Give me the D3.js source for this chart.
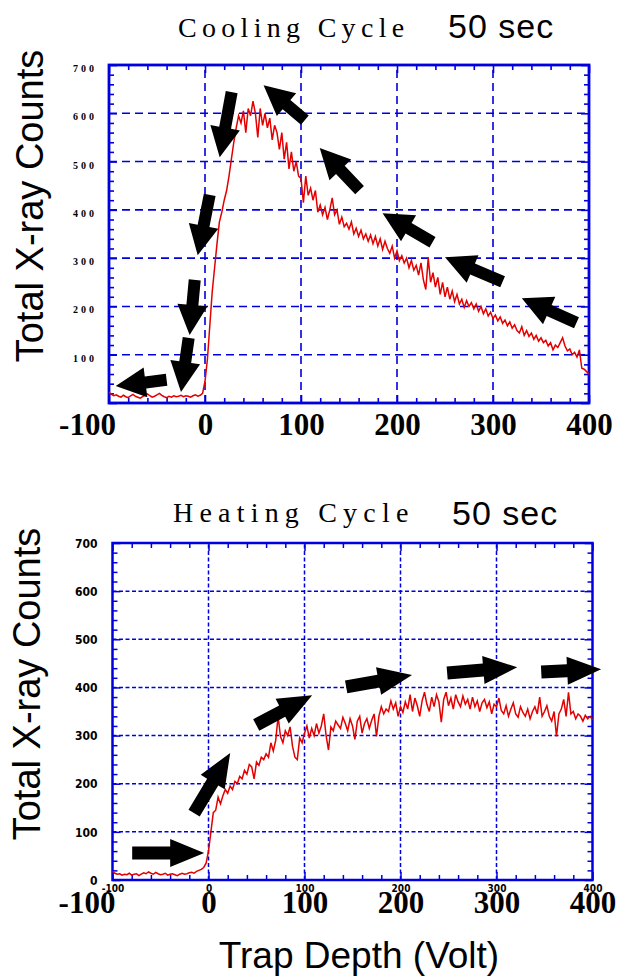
<!DOCTYPE html>
<html><head><meta charset="utf-8">
<script src="https://cdn.jsdelivr.net/npm/d3@7"></script>
<style>body{margin:0;background:#fff} svg{display:block}</style>
</head><body><svg id="c" width="617" height="976"></svg>
<script>
// ---------- DATA ----------
const voltages = d3.range(-100, 400.001, 2.5); // instrument sampling grid (Volt)
const coolingCounts = [
  22,18,15,17,14,12,16,13,11,15, 18,14,12,10,13,16,19,15,12,14,
  17,20,16,13,11,14,12,15,13,14, 16,13,15,14,12,15,17,14,16,
  20,45,90,160,230,280,330,375,395,420,
  440,470,505,540,570,595,580,605,560,610,
  595,625,600,550,610,575,600,570,590,545,
  575,560,525,560,505,540,485,520,480,500,
  470,465,415,470,430,445,420,440,395,410,
  390,405,380,400,425,390,400,370,385,365,
  372,360,375,350,362,345,358,340,350,335,
  348,330,345,325,340,318,335,320,310,325,
  300,315,295,305,290,300,280,295,275,285,
  265,290,255,235,300,250,270,240,260,225,
  250,220,240,215,232,210,225,205,215,198,
  212,200,208,195,205,190,200,185,195,180,
  188,175,182,170,178,165,172,160,168,155,
  162,150,145,158,140,150,138,145,132,140,
  128,135,125,130,118,125,110,120,115,125,
  135,118,108,112,100,105,95,110,72,70,
  65,60
];
const heatingCounts = [
  18,14,12,13,10,12,11,14,10,12, 13,9,12,15,13,17,14,12,16,13,
  11,12,14,10,12,13,11,9,12,14, 12,13,15,16,14,18,20,22,
  26,35,60,100,140,145,172,158,175,188,
  180,195,188,205,200,215,210,228,220,240,
  235,210,245,238,255,250,262,255,285,268,
  290,340,298,285,310,300,318,278,255,250,
  295,285,305,320,295,315,300,325,305,320,
  345,300,270,318,310,330,322,315,338,325,
  310,335,320,292,330,340,305,325,335,315,
  332,345,298,340,360,345,355,350,372,355,
  368,340,360,348,370,355,385,350,378,362,
  340,372,390,365,350,380,360,385,370,328,
  375,390,362,378,355,385,370,360,382,365,
  375,355,380,360,372,350,368,375,358,370,
  345,365,360,378,352,345,362,340,355,368,
  345,338,360,348,340,355,335,350,360,345,
  380,340,350,362,340,330,350,298,345,355,
  375,340,390,345,350,335,345,340,330,342,
  335,340,333
];
const xTickLabels = [-100, 0, 100, 200, 300, 400];
const yTickLabelsCooling = [100, 200, 300, 400, 500, 600, 700];
const yTickLabelsHeating = [0, 100, 200, 300, 400, 500, 600, 700];
// annotation arrows: [tail volt, tail counts, tip volt, tip counts]
const coolingArrows = [
  [-40, 48, -93, 35],
  [-17, 135, -25, 23],
  [-10.7, 255, -16, 141],
  [4.9, 431, -7.6, 306],
  [27.8, 644, 15.3, 509],
  [104, 586, 61, 658],
  [161, 441, 119.5, 528],
  [237, 333, 185, 393],
  [310, 251, 250, 302],
  [387, 166, 330, 217]
];
const heatingArrows = [
  [-79.5, 56, -4.5, 56],
  [-15, 139, 22.6, 264],
  [49.7, 322, 108, 384],
  [143.4, 401, 212, 426],
  [248.6, 430, 321.6, 442],
  [346.6, 432, 409, 438]
];

// ---------- DRAW ----------
const svg = d3.select('#c');
const BLUE = '#0000dd', RED = '#e30000';

function arrowPath(x1, y1, x2, y2, sw, hw, hl) {
  const dx = x2 - x1, dy = y2 - y1, L = Math.hypot(dx, dy);
  const ux = dx / L, uy = dy / L, nx = -uy, ny = ux;
  const bx = x2 - ux * hl, by = y2 - uy * hl;
  const p = [
    [x1 + nx * sw / 2, y1 + ny * sw / 2],
    [bx + nx * sw / 2, by + ny * sw / 2],
    [bx + nx * hw / 2, by + ny * hw / 2],
    [x2, y2],
    [bx - nx * hw / 2, by - ny * hw / 2],
    [bx - nx * sw / 2, by - ny * sw / 2],
    [x1 - nx * sw / 2, y1 - ny * sw / 2]
  ];
  return 'M' + p.map(d => d.join(',')).join('L') + 'Z';
}

function panel(cfg) {
  const g = svg.append('g');
  const x = d3.scaleLinear().domain([-100, 400]).range(cfg.xr);
  const y = d3.scaleLinear().domain([0, 700]).range(cfg.yr);
  const [L, R] = cfg.xr, [B, T] = cfg.yr;

  // grid
  const grid = g.append('g').attr('stroke', BLUE).attr('stroke-width', cfg.gridW)
    .attr('stroke-dasharray', cfg.dash).attr('fill', 'none');
  [0, 100, 200, 300].forEach(v => grid.append('line')
    .attr('x1', x(v)).attr('x2', x(v)).attr('y1', B).attr('y2', T));
  [100, 200, 300, 400, 500, 600].forEach(v => grid.append('line')
    .attr('x1', L).attr('x2', R).attr('y1', y(v)).attr('y2', y(v)));

  // ticks (inward, all four sides)
  const majX = d3.range(-100, 401, 100), minX = d3.range(-100, 401, 20).filter(v => v % 100 !== 0);
  const majY = d3.range(0, 701, 100), minY = d3.range(0, 701, 20).filter(v => v % 100 !== 0);
  const mk = (axisFn, scale, vals, size, tr) => {
    const a = g.append('g').attr('transform', tr)
      .call(axisFn(scale).tickValues(vals).tickSizeInner(-size).tickSizeOuter(0).tickFormat(''));
    a.select('.domain').remove();
    a.selectAll('line').attr('stroke', BLUE).attr('stroke-width', cfg.tickW);
  };
  [[majX, 8], [minX, 5]].forEach(([v, s]) => {
    mk(d3.axisBottom, x, v, s, `translate(0,${B})`);
    mk(d3.axisTop, x, v, s, `translate(0,${T})`);
  });
  [[majY, 8], [minY, 5]].forEach(([v, s]) => {
    mk(d3.axisLeft, y, v, s, `translate(${L},0)`);
    mk(d3.axisRight, y, v, s, `translate(${R},0)`);
  });

  // frame
  g.append('rect').attr('x', L).attr('y', T).attr('width', R - L).attr('height', B - T)
    .attr('fill', 'none').attr('stroke', BLUE).attr('stroke-width', cfg.frameW);

  // data
  const pts = voltages.map((v, i) => [v, cfg.counts[i]]);
  g.append('path').datum(pts)
    .attr('d', d3.line().x(d => x(d[0])).y(d => y(d[1])))
    .attr('fill', 'none').attr('stroke', RED).attr('stroke-width', 1.5)
    .attr('stroke-linejoin', 'miter');

  // y tick labels
  const yl = g.append('g').attr('transform', `translate(${L},0)`)
    .call(d3.axisLeft(y).tickValues(cfg.yLabels).tickSize(0).tickPadding(cfg.yPad));
  yl.select('.domain').remove();
  yl.selectAll('text').attr('font-family', cfg.yFont).attr('font-weight', 'bold')
    .attr('font-size', cfg.yFontSize).attr('letter-spacing', cfg.ySpacing)
    .attr('dy', cfg.yDy).attr('fill', '#000');

  // optional small x tick labels (overprinted in the original)
  if (cfg.smallX) {
    const sx = g.append('g').attr('transform', `translate(0,${B})`)
      .call(d3.axisBottom(x).tickValues(xTickLabels).tickSize(0).tickPadding(5));
    sx.select('.domain').remove();
    sx.selectAll('text').attr('font-family', '"DejaVu Sans Condensed", "DejaVu Sans"')
      .attr('font-stretch', 'condensed').attr('font-weight', 'bold')
      .attr('font-size', 10).attr('fill', '#000').text(d => String(d));
  }

  // big x tick labels
  const xl = g.append('g').attr('transform', `translate(0,${B})`)
    .call(d3.axisBottom(x).tickValues(xTickLabels).tickSize(0).tickPadding(0));
  xl.select('.domain').remove();
  xl.selectAll('text').attr('font-family', '"Liberation Serif", "Times New Roman", serif')
    .attr('font-weight', 'bold').attr('font-size', 31).attr('fill', '#000')
    .attr('dy', null).attr('y', cfg.xLabelBase - B)
    .attr('dx', d => d === -100 ? cfg.minusShift : 0)
    .text(d => String(d));

  // arrows
  cfg.arrows.forEach(a => {
    g.append('path')
      .attr('d', arrowPath(x(a[0]), y(a[1]), x(a[2]), y(a[3]), cfg.shaftW, cfg.headW, cfg.headL))
      .attr('fill', '#000');
  });

  // title
  g.append('text').attr('x', cfg.titleX).attr('y', cfg.titleY)
    .attr('font-family', '"Liberation Serif", "Times New Roman", serif')
    .attr('font-size', 28).attr('letter-spacing', cfg.titleSpacing).attr('fill', '#000').text(cfg.title);
  g.append('text').attr('x', cfg.secX).attr('y', cfg.secY)
    .attr('font-family', '"Liberation Sans", Arial, sans-serif')
    .attr('font-size', 34).attr('letter-spacing', 1).attr('fill', '#000').text('50 sec');

  // y title
  g.append('text').attr('transform', `translate(${cfg.yTitleX},${cfg.yTitleY}) rotate(-90)`)
    .attr('text-anchor', 'middle')
    .attr('font-family', '"Liberation Sans", Arial, sans-serif')
    .attr('font-size', 38).attr('fill', '#000').text('Total X-ray Counts');
}

panel({
  xr: [109, 589], yr: [403, 65], counts: coolingCounts, arrows: coolingArrows,
  dash: '8,5', gridW: 1.6, tickW: 1.6, frameW: 2.8,
  yLabels: yTickLabelsCooling, yFont: '"Liberation Serif", "Times New Roman", serif',
  yFontSize: 10, ySpacing: 3, yPad: 12, yDy: '0.65em',
  smallX: false, xLabelBase: 435, minusShift: -22,
  shaftW: 12, headW: 30, headL: 30,
  title: 'Cooling Cycle', titleSpacing: 5.3, titleX: 178, titleY: 37, secX: 448, secY: 38,
  yTitleX: 43, yTitleY: 206
});

panel({
  xr: [112.5, 592.5], yr: [880, 543], counts: heatingCounts, arrows: heatingArrows,
  dash: '4,2.5', gridW: 1.5, tickW: 1.5, frameW: 2.5,
  yLabels: yTickLabelsHeating, yFont: '"DejaVu Sans Condensed", "DejaVu Sans", sans-serif',
  yFontSize: 12, ySpacing: 0, yPad: 15, yDy: '0.35em',
  smallX: true, xLabelBase: 913, minusShift: -26,
  shaftW: 13, headW: 28, headL: 34,
  title: 'Heating Cycle', titleSpacing: 6.2, titleX: 173, titleY: 522, secX: 452, secY: 525,
  yTitleX: 40, yTitleY: 684
});

// shared x-axis title
svg.append('text').attr('x', 359).attr('y', 968).attr('text-anchor', 'middle')
  .attr('font-family', '"Liberation Sans", Arial, sans-serif')
  .attr('font-size', 37).attr('fill', '#000').text('Trap Depth (Volt)');
</script>
</body></html>
